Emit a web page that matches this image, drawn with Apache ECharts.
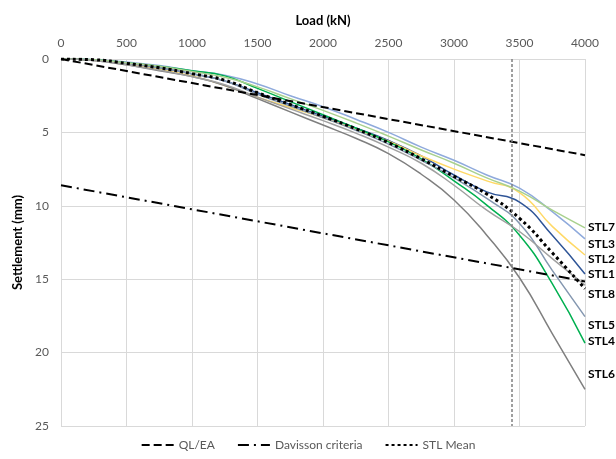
<!DOCTYPE html>
<html>
<head>
<meta charset="utf-8">
<script src="https://cdn.jsdelivr.net/npm/echarts@6/dist/echarts.min.js"></script>
<style>
  html, body { margin: 0; padding: 0; background: #fff; }
  #chart { width: 616px; height: 459px; }
</style>
</head>
<body>
<div id="chart"></div>
<script>
// load steps (kN)
const loads = [0, 250, 500, 750, 1000, 1250, 1500, 1750, 2000, 2250, 2500, 2750, 3000, 3250, 3500, 3750, 4000]

// settlements (mm)
const stl1 = [0, 0.05, 0.3, 0.6, 1.0, 1.5, 2.3, 3.1, 3.9, 4.7, 5.55, 6.6, 7.9, 9.05, 9.75, 12.0, 14.65]
const stl2 = [0, 0.08, 0.35, 0.7, 1.15, 1.8, 2.6, 3.3, 4.0, 4.8, 5.6, 6.6, 7.5, 8.3, 9.1, 11.4, 13.35]
const stl3 = [0, 0.05, 0.2, 0.45, 0.8, 1.1, 1.7, 2.5, 3.25, 4.1, 5.0, 6.0, 6.9, 7.9, 8.8, 10.4, 12.25]
const stl4 = [0, 0.05, 0.25, 0.5, 0.8, 1.15, 2.0, 2.9, 3.8, 4.7, 5.65, 6.8, 8.3, 9.95, 12.0, 15.3, 19.35]
const stl5 = [0, 0.05, 0.3, 0.6, 1.0, 1.5, 2.4, 3.2, 4.0, 4.85, 5.8, 6.9, 8.1, 9.5, 11.2, 14.4, 17.55]
const stl6 = [0, 0.1, 0.4, 0.8, 1.2, 1.8, 2.7, 3.6, 4.5, 5.4, 6.45, 7.85, 9.6, 12.0, 14.9, 18.7, 22.5]
const stl7 = [0, 0.05, 0.25, 0.5, 0.85, 1.25, 1.9, 2.7, 3.5, 4.35, 5.25, 6.2, 7.1, 8.1, 9.0, 10.3, 11.5]
const stl8 = [0, 0.1, 0.4, 0.75, 1.2, 1.75, 2.6, 3.4, 4.2, 5.05, 6.0, 7.1, 8.6, 10.3, 11.75, 13.6, 15.4]
const stlMean = [0, 0.05, 0.3, 0.6, 1.0, 1.45, 2.3, 3.1, 3.9, 4.75, 5.7, 6.8, 8.0, 9.2, 10.85, 13.2, 15.65]

// reference lines
const qlLoads = [0, 4000]
const qlEa = [0, 6.55]
const davisson = [8.6, 15.15]
const failureLoad = 3443

const xTicks = [0, 500, 1000, 1500, 2000, 2500, 3000, 3500, 4000]

const pairs = (xs, ys) => xs.map((x, i) => [x, ys[i]])

const stlSeries = [
  { name: 'STL1', data: stl1, color: '#2F5597', dy: 0 },
  { name: 'STL2', data: stl2, color: '#FFD966', dy: 4 },
  { name: 'STL3', data: stl3, color: '#8FAADC', dy: 5 },
  { name: 'STL4', data: stl4, color: '#00B050', dy: -2 },
  { name: 'STL5', data: stl5, color: '#8497B0', dy: 8 },
  { name: 'STL6', data: stl6, color: '#7F7F7F', dy: -15 },
  { name: 'STL7', data: stl7, color: '#A9D18E', dy: -1 },
  { name: 'STL8', data: stl8, color: '#A0A0A0', dy: 9 }
]

const chart = echarts.init(document.getElementById('chart'))

const series = stlSeries.map(s => ({
  name: s.name,
  type: 'line',
  data: pairs(loads, s.data),
  smooth: 0.5,
  symbol: 'none',
  lineStyle: { color: s.color, width: 1.5 },
  itemStyle: { color: s.color },
  endLabel: {
    show: true,
    formatter: s.name,
    color: '#000',
    fontWeight: 'bold',
    fontSize: 12,
    distance: 3,
    offset: [0, s.dy]
  },
  z: 2
}))

series.push({
  name: 'QL/EA',
  type: 'line',
  data: pairs(qlLoads, qlEa),
  symbol: 'none',
  lineStyle: { color: '#000', width: 2, type: [8, 4] },
  itemStyle: { color: '#000' },
  z: 3
})

series.push({
  name: 'Davisson criteria',
  type: 'line',
  data: pairs(qlLoads, davisson),
  symbol: 'none',
  lineStyle: { color: '#000', width: 2, type: [11, 5, 2, 5] },
  itemStyle: { color: '#000' },
  z: 3
})

series.push({
  name: 'STL Mean',
  type: 'line',
  data: pairs(loads, stlMean),
  smooth: 0.5,
  symbol: 'none',
  lineStyle: { color: '#000', width: 3, type: [3, 3] },
  itemStyle: { color: '#000' },
  z: 4,
  markLine: {
    silent: true,
    symbol: 'none',
    label: { show: false },
    lineStyle: { color: '#808080', width: 1.5, type: [3, 2] },
    data: [{ xAxis: failureLoad }]
  }
})

const options = {
  animation: false,
  textStyle: { fontFamily: 'Lato, "Noto Sans", sans-serif' },
  grid: { left: 61, right: 31, top: 59, bottom: 33 },
  legend: {
    data: ['QL/EA', 'Davisson criteria', 'STL Mean'],
    bottom: 3,
    left: 'center',
    itemWidth: 32,
    itemHeight: 8,
    itemGap: 22,
    itemStyle: { color: 'transparent', borderColor: 'transparent', borderWidth: 0 },
    textStyle: { color: '#595959', fontSize: 12 }
  },
  xAxis: {
    type: 'value',
    position: 'top',
    min: 0,
    max: 4000,
    interval: 500,
    name: 'Load (kN)',
    nameLocation: 'middle',
    nameGap: 32,
    nameTextStyle: { color: '#000', fontWeight: 'bold', fontSize: 13 },
    axisLine: { show: false },
    axisTick: { show: false },
    axisLabel: {
      color: '#595959',
      fontSize: 12,
      margin: 10,
      formatter: v => xTicks.includes(v) ? String(v) : ''
    },
    splitLine: { show: true, lineStyle: { color: '#D9D9D9', width: 1 } }
  },
  yAxis: {
    type: 'value',
    inverse: true,
    min: 0,
    max: 25,
    interval: 5,
    name: 'Settlement (mm)',
    nameLocation: 'middle',
    nameGap: 36,
    nameTextStyle: { color: '#000', fontWeight: 'bold', fontSize: 13 },
    axisLine: { show: false },
    axisTick: { show: false },
    axisLabel: { color: '#595959', fontSize: 12, margin: 12 },
    splitLine: { show: true, lineStyle: { color: '#D9D9D9', width: 1 } }
  },
  series: series
}

chart.setOption(options)
</script>
</body>
</html>
